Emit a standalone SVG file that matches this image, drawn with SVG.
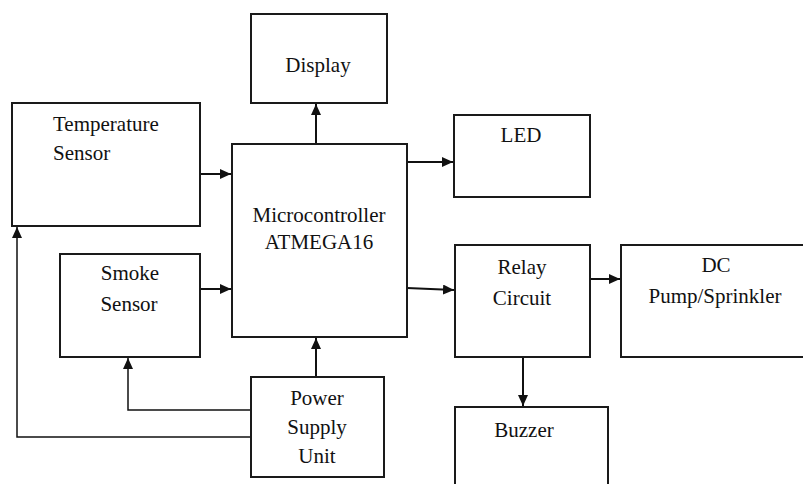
<svg xmlns="http://www.w3.org/2000/svg" width="803" height="484" viewBox="0 0 803 484">
<defs>
<style>
.box{fill:#fff;stroke:#1a1a1a;stroke-width:2}
.c{fill:none;stroke:#111;stroke-width:2}
.c2{fill:none;stroke:#111;stroke-width:1.5}
</style>
<marker id="ah" markerUnits="userSpaceOnUse" markerWidth="12" markerHeight="10" refX="11" refY="5" orient="auto">
<path d="M0,0 L11,5 L0,10 Z" fill="#111"/>
</marker>
</defs>
<rect width="803" height="484" fill="#fff"/>
<g id="connectors">
<line class="c" x1="316" y1="144" x2="316" y2="104" marker-end="url(#ah)"/>
<line class="c" x1="200" y1="174" x2="231" y2="174" marker-end="url(#ah)"/>
<line class="c" x1="200" y1="289" x2="231" y2="289" marker-end="url(#ah)"/>
<line class="c" x1="407" y1="162" x2="453" y2="162" marker-end="url(#ah)"/>
<line class="c" x1="407" y1="288" x2="454" y2="290" marker-end="url(#ah)"/>
<line class="c" x1="587" y1="279" x2="620" y2="279" marker-end="url(#ah)"/>
<line class="c" x1="523" y1="357" x2="523" y2="406" marker-end="url(#ah)"/>
<line class="c" x1="316" y1="377" x2="316" y2="338" marker-end="url(#ah)"/>
<polyline class="c2" points="251,410 128,410 128,358" marker-end="url(#ah)"/>
<polyline class="c2" points="251,437 17,437 17,227" marker-end="url(#ah)"/>
</g>
<g font-family="Liberation Serif" font-size="21" fill="#111">
<g id="display">
<rect class="box" x="251" y="14" width="136" height="89"/>
<text x="318" y="72" text-anchor="middle">Display</text>
</g>
<g id="temperature-sensor">
<rect class="box" x="12" y="103" width="188" height="123"/>
<text x="53" y="131">Temperature</text>
<text x="53" y="160">Sensor</text>
</g>
<g id="microcontroller">
<rect class="box" x="232" y="144" width="175" height="193"/>
<text x="319" y="222" text-anchor="middle">Microcontroller</text>
<text x="319" y="249" text-anchor="middle">ATMEGA16</text>
</g>
<g id="led">
<rect class="box" x="454" y="115" width="136" height="82"/>
<text x="521" y="142" text-anchor="middle">LED</text>
</g>
<g id="smoke-sensor">
<rect class="box" x="60" y="254" width="140" height="103"/>
<text x="130" y="280" text-anchor="middle">Smoke</text>
<text x="129" y="311" text-anchor="middle">Sensor</text>
</g>
<g id="relay-circuit">
<rect class="box" x="455" y="245" width="135" height="112"/>
<text x="522" y="274" text-anchor="middle">Relay</text>
<text x="522" y="305" text-anchor="middle">Circuit</text>
</g>
<g id="dc-pump">
<rect class="box" x="621" y="245" width="190" height="112"/>
<text x="716" y="272" text-anchor="middle">DC</text>
<text x="715" y="303" text-anchor="middle">Pump/Sprinkler</text>
</g>
<g id="power-supply">
<rect class="box" x="251" y="377" width="133" height="100"/>
<text x="317" y="405" text-anchor="middle">Power</text>
<text x="317" y="434" text-anchor="middle">Supply</text>
<text x="317" y="463" text-anchor="middle">Unit</text>
</g>
<g id="buzzer">
<rect class="box" x="455" y="407" width="153" height="90"/>
<text x="524" y="437" text-anchor="middle">Buzzer</text>
</g>
</g>
</svg>
